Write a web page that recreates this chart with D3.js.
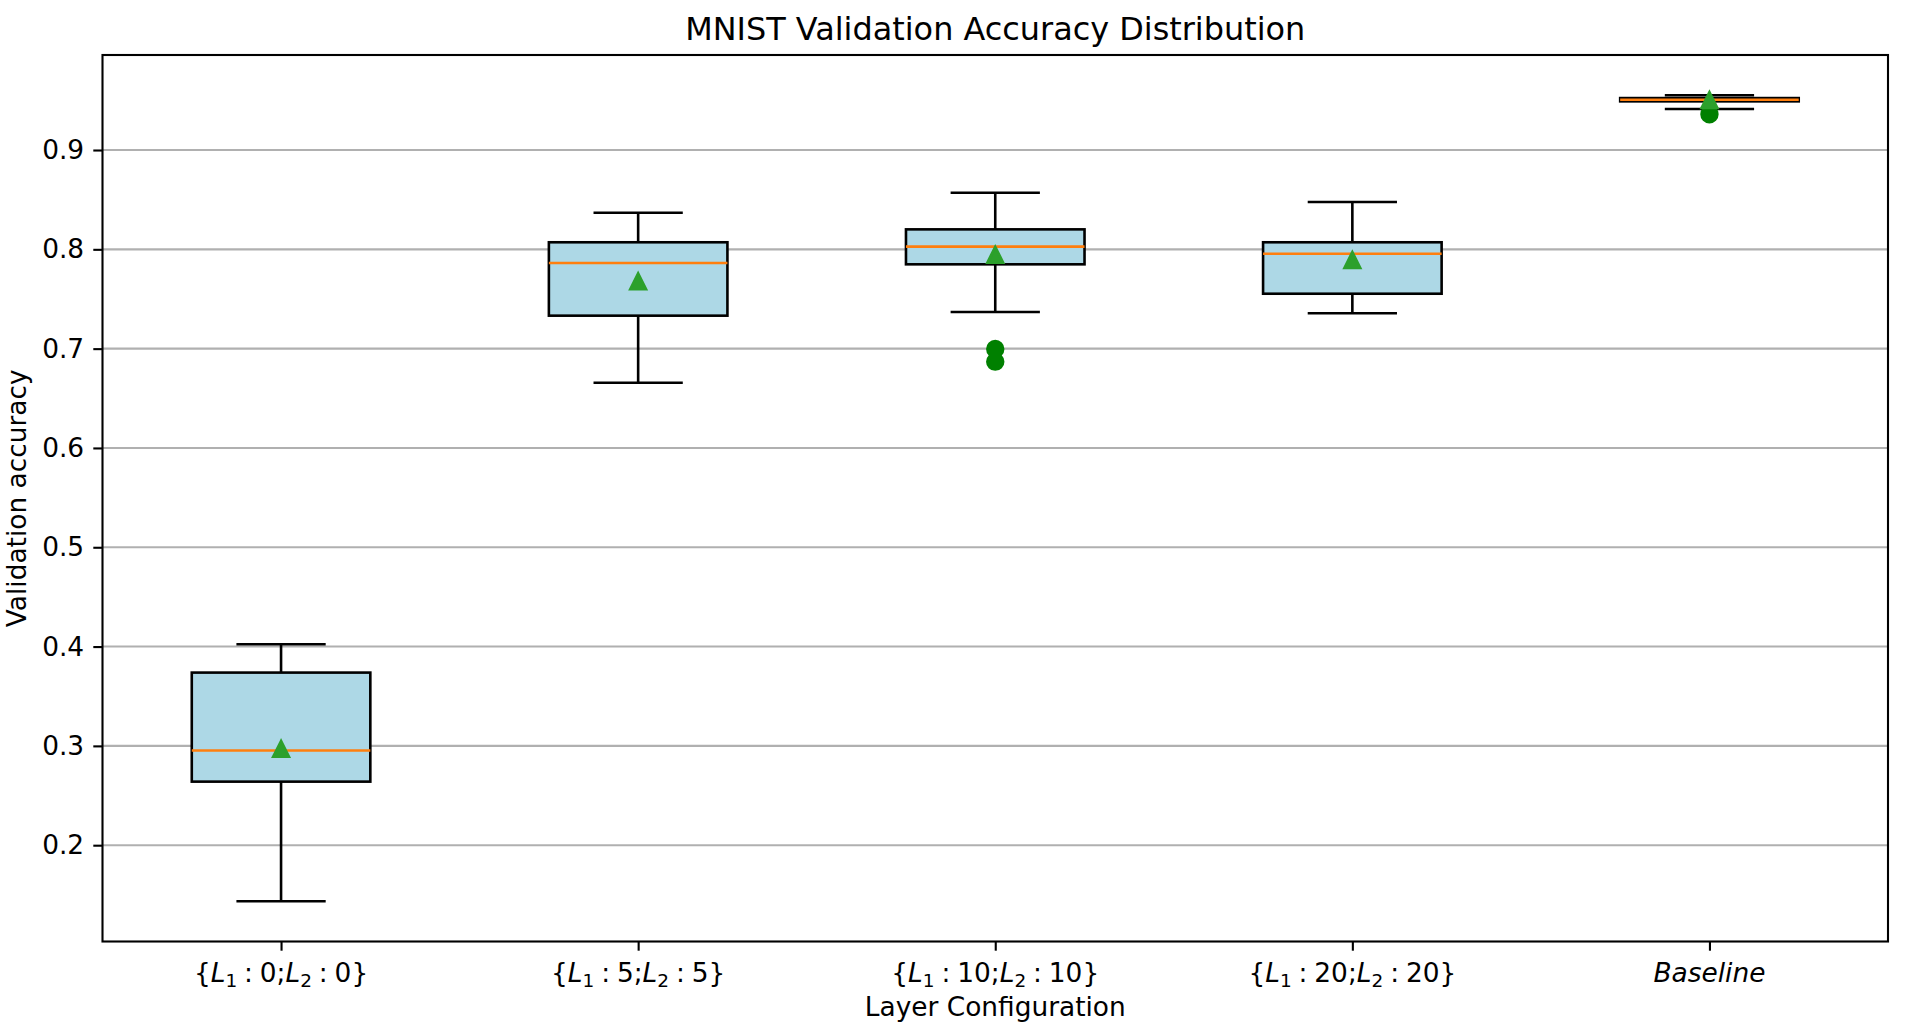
<!DOCTYPE html>
<html>
<head>
<meta charset="utf-8">
<script src="https://cdn.jsdelivr.net/npm/d3@7"></script>
<style>
  body { margin: 0; background: #fff; }
  text { font-family: "DejaVu Sans", sans-serif; fill: #000; }
</style>
</head>
<body>
<div id="chart"></div>
<script>
// 1. Data
const categories = ["{L_1:0;L_2:0}", "{L_1:5;L_2:5}", "{L_1:10;L_2:10}", "{L_1:20;L_2:20}", "Baseline"];
const whiskerLow  = [0.1436, 0.6657, 0.7369, 0.7356, 0.9413];
const q1          = [0.2640, 0.7332, 0.7849, 0.7553, 0.9490];
const medians     = [0.2953, 0.7862, 0.8027, 0.7956, 0.9506];
const q3          = [0.3738, 0.8071, 0.8201, 0.8071, 0.9523];
const whiskerHigh = [0.4024, 0.8369, 0.8570, 0.8476, 0.9551];
const means       = [0.2970, 0.7679, 0.7946, 0.7893, 0.9503];
const outliers    = [[], [], [0.6997, 0.6869], [], [0.9360]];

// 2. SVG setup
const width = 1922;
const height = 1024;
const margin = { top: 55, right: 34, bottom: 82.5, left: 102.5 };
const fontSize = 26.4; // 10pt
const lw = 2.6;        // 1pt line

const svg = d3.select("#chart")
    .append("svg")
    .attr("width", width)
    .attr("height", height)
    .style("display", "block");

// 3. Scales
const allValues = whiskerLow.concat(whiskerHigh, outliers.flat());
const [vMin, vMax] = d3.extent(allValues);
const pad = (vMax - vMin) * 0.05; // matplotlib-like auto margin

const y = d3.scaleLinear()
    .domain([vMin - pad, vMax + pad])
    .range([height - margin.bottom, margin.top]);

const x = d3.scaleLinear()
    .domain([0.5, categories.length + 0.5])
    .range([margin.left, width - margin.right]);

const unit = x(1) - x(0); // pixels per category step
const boxW = unit * 0.5;
const capW = unit * 0.25;

// 4. Grid lines (y only)
const yTicks = y.ticks(10);
svg.append("g")
    .selectAll("line")
    .data(yTicks)
    .enter().append("line")
    .attr("x1", margin.left)
    .attr("x2", width - margin.right)
    .attr("y1", d => y(d))
    .attr("y2", d => y(d))
    .attr("stroke", "#b0b0b0")
    .attr("stroke-width", 2.1);

// 5. Boxes
const data = categories.map((c, i) => ({
    i: i,
    pos: i + 1,
    low: whiskerLow[i], q1: q1[i], med: medians[i], q3: q3[i], high: whiskerHigh[i],
    mean: means[i], fliers: outliers[i]
}));

const g = svg.append("g");

// box body
g.selectAll("rect.box")
    .data(data)
    .enter().append("rect")
    .attr("class", "box")
    .attr("x", d => x(d.pos) - boxW / 2)
    .attr("width", boxW)
    .attr("y", d => y(d.q3))
    .attr("height", d => y(d.q1) - y(d.q3))
    .attr("fill", "#add8e6")
    .attr("stroke", "#000")
    .attr("stroke-width", lw);

// whiskers
g.selectAll("line.wlo")
    .data(data)
    .enter().append("line")
    .attr("x1", d => x(d.pos)).attr("x2", d => x(d.pos))
    .attr("y1", d => y(d.q1)).attr("y2", d => y(d.low))
    .attr("stroke", "#000").attr("stroke-width", lw);

g.selectAll("line.whi")
    .data(data)
    .enter().append("line")
    .attr("x1", d => x(d.pos)).attr("x2", d => x(d.pos))
    .attr("y1", d => y(d.q3)).attr("y2", d => y(d.high))
    .attr("stroke", "#000").attr("stroke-width", lw);

// caps
["low", "high"].forEach(k => {
    g.selectAll("line.cap-" + k)
        .data(data)
        .enter().append("line")
        .attr("x1", d => x(d.pos) - capW / 2)
        .attr("x2", d => x(d.pos) + capW / 2)
        .attr("y1", d => y(d[k])).attr("y2", d => y(d[k]))
        .attr("stroke", "#000").attr("stroke-width", lw);
});

// medians
g.selectAll("line.med")
    .data(data)
    .enter().append("line")
    .attr("x1", d => x(d.pos) - boxW / 2)
    .attr("x2", d => x(d.pos) + boxW / 2)
    .attr("y1", d => y(d.med)).attr("y2", d => y(d.med))
    .attr("stroke", "#ff7f0e").attr("stroke-width", lw);

// outliers
const fliers = data.flatMap(d => d.fliers.map(v => ({ pos: d.pos, v: v })));
g.selectAll("circle.flier")
    .data(fliers)
    .enter().append("circle")
    .attr("cx", d => x(d.pos))
    .attr("cy", d => y(d.v))
    .attr("r", 7.9)
    .attr("fill", "green")
    .attr("stroke", "green")
    .attr("stroke-width", lw);

// means (triangle, centred on its bounding box like matplotlib '^')
const ms = 15.8;
g.selectAll("path.mean")
    .data(data)
    .enter().append("path")
    .attr("d", d => {
        const cx = x(d.pos), cy = y(d.mean), h = ms / 2;
        return `M${cx},${cy - h}L${cx - h},${cy + h}L${cx + h},${cy + h}Z`;
    })
    .attr("fill", "#2ca02c")
    .attr("stroke", "#2ca02c")
    .attr("stroke-width", lw)
    .attr("stroke-linejoin", "miter");

// 6. Axes frame
svg.append("rect")
    .attr("x", margin.left)
    .attr("y", margin.top)
    .attr("width", width - margin.left - margin.right)
    .attr("height", height - margin.top - margin.bottom)
    .attr("fill", "none")
    .attr("stroke", "#000")
    .attr("stroke-width", 2.1);

// y axis
const yAxis = svg.append("g")
    .attr("transform", `translate(${margin.left},0)`)
    .call(d3.axisLeft(y).tickValues(yTicks).tickFormat(d3.format(".1f")).tickSize(9.2).tickPadding(9.2));
yAxis.select(".domain").remove();
yAxis.selectAll(".tick line").attr("stroke-width", 2.1);
yAxis.selectAll(".tick text")
    .attr("font-size", fontSize)
    .attr("font-family", "DejaVu Sans")
    .attr("fill", "#000");

// x axis: ticks only, labels drawn as mathtext-like tspans
const xAxis = svg.append("g")
    .attr("transform", `translate(0,${height - margin.bottom})`)
    .call(d3.axisBottom(x).tickValues(d3.range(1, categories.length + 1)).tickFormat("").tickSize(9.2));
xAxis.select(".domain").remove();
xAxis.selectAll(".tick line").attr("stroke-width", 2.1);

// split "{L_1:0;L_2:0}" into styled pieces: letters italic, "_x" subscript
function mathPieces(s) {
    const out = [];
    for (let k = 0; k < s.length; k++) {
        const ch = s[k];
        if (ch === "_") {
            out.push({ t: s[k + 1], sub: true });
            k++;
        } else if (/[A-Za-z]/.test(ch)) {
            const last = out[out.length - 1];
            if (last && last.it && !last.sub) last.t += ch;
            else out.push({ t: ch, it: true });
        } else if (ch === ":") {
            out.push({ t: ":", rel: true });
        } else {
            const last = out[out.length - 1];
            if (last && !last.it && !last.sub && !last.rel) last.t += ch;
            else out.push({ t: ch });
        }
    }
    return out;
}

const relGap = fontSize * 0.26; // space around ":" like mathtext relations
const xLabels = svg.append("g");
categories.forEach((c, i) => {
    const t = xLabels.append("text")
        .attr("x", x(i + 1))
        .attr("y", 981.5)
        .attr("text-anchor", "middle")
        .attr("font-size", fontSize);
    let shifted = false;
    let gap = 0;
    mathPieces(c).forEach(p => {
        const ts = t.append("tspan").text(p.t);
        if (p.it) ts.attr("font-style", "italic");
        if (p.sub) {
            ts.attr("font-size", fontSize * 0.7).attr("dy", fontSize * 0.2);
            shifted = true;
        } else if (shifted) {
            ts.attr("dy", -fontSize * 0.2);
            shifted = false;
        }
        if (p.rel) gap += relGap;
        if (gap) ts.attr("dx", gap);
        gap = p.rel ? relGap : 0;
    });
});

// 7. Titles
svg.append("text")
    .attr("x", (margin.left + width - margin.right) / 2)
    .attr("y", 39.5)
    .attr("text-anchor", "middle")
    .attr("font-size", 31.9)
    .text("MNIST Validation Accuracy Distribution");

svg.append("text")
    .attr("x", (margin.left + width - margin.right) / 2)
    .attr("y", 1016)
    .attr("text-anchor", "middle")
    .attr("font-size", fontSize)
    .text("Layer Configuration");

svg.append("text")
    .attr("transform", `translate(25.5,${(margin.top + height - margin.bottom) / 2}) rotate(-90)`)
    .attr("text-anchor", "middle")
    .attr("font-size", fontSize)
    .text("Validation accuracy");
</script>
</body>
</html>
